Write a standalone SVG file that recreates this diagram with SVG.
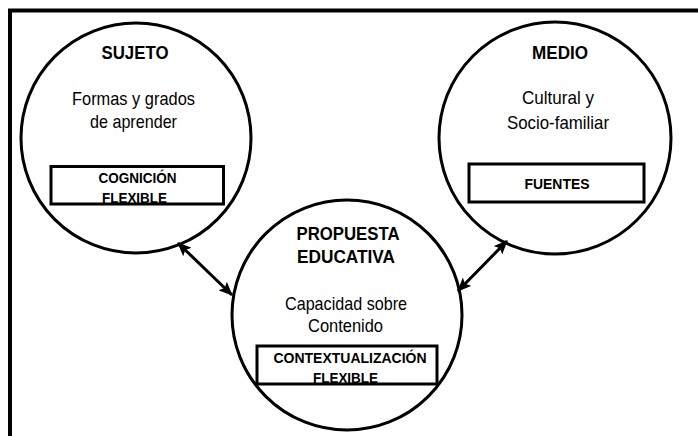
<svg xmlns="http://www.w3.org/2000/svg" width="698" height="436" viewBox="0 0 698 436">
<defs>
<style>
.frame{fill:none;stroke:#000;stroke-width:4}
.circ{fill:none;stroke:#000;stroke-width:3}
.box{fill:none;stroke:#000;stroke-width:3}
text{font-family:"Liberation Sans",Arial,sans-serif;text-anchor:middle;fill:#000}
.title{font-weight:bold;font-size:19px}
.body{font-size:18.5px}
.lab{font-weight:bold;font-size:15.5px}
.arrow{stroke:#000;stroke-width:3;fill:none;marker-start:url(#ah);marker-end:url(#ah)}
</style>
<marker id="ah" viewBox="0 0 14 12" refX="13" refY="6" markerWidth="14" markerHeight="12" markerUnits="userSpaceOnUse" orient="auto-start-reverse">
<path d="M0,0 L14,6 L0,12 L3,6 Z" fill="#000"/>
</marker>
</defs>
<path class="frame" d="M10,436 V10.5 H698"/>
<g id="sujeto">
<circle class="circ" cx="136" cy="138" r="115"/>
<text class="title" x="135" y="58.5" textLength="67" lengthAdjust="spacingAndGlyphs">SUJETO</text>
<text class="body" x="133.5" y="105" textLength="123" lengthAdjust="spacingAndGlyphs">Formas y grados</text>
<text class="body" x="133.5" y="127.5" textLength="87" lengthAdjust="spacingAndGlyphs">de aprender</text>
<rect class="box" x="51" y="166.5" width="172.5" height="37.5"/>
<text class="lab" x="137.5" y="183.3" textLength="78" lengthAdjust="spacingAndGlyphs">COGNICIÓN</text>
<text class="lab" x="134.5" y="202.7" textLength="65" lengthAdjust="spacingAndGlyphs">FLEXIBLE</text>
</g>
<g id="medio">
<circle class="circ" cx="555" cy="138" r="116"/>
<text class="title" x="560" y="59" textLength="56" lengthAdjust="spacingAndGlyphs">MEDIO</text>
<text class="body" x="558" y="104" textLength="72" lengthAdjust="spacingAndGlyphs">Cultural y</text>
<text class="body" x="558" y="129" textLength="102" lengthAdjust="spacingAndGlyphs">Socio-familiar</text>
<rect class="box" x="469" y="164" width="175" height="38"/>
<text class="lab" x="557" y="189" textLength="65" lengthAdjust="spacingAndGlyphs">FUENTES</text>
</g>
<g id="propuesta">
<circle class="circ" cx="347" cy="315" r="115"/>
<text class="title" x="348" y="240" textLength="103" lengthAdjust="spacingAndGlyphs">PROPUESTA</text>
<text class="title" x="346" y="263" textLength="98" lengthAdjust="spacingAndGlyphs">EDUCATIVA</text>
<text class="body" x="346" y="310" textLength="122" lengthAdjust="spacingAndGlyphs">Capacidad sobre</text>
<text class="body" x="345.5" y="332" textLength="75" lengthAdjust="spacingAndGlyphs">Contenido</text>
<rect class="box" x="257" y="346" width="180" height="38"/>
<text class="lab" x="350" y="363" textLength="153" lengthAdjust="spacingAndGlyphs">CONTEXTUALIZACIÓN</text>
<text class="lab" x="345.5" y="383" textLength="65" lengthAdjust="spacingAndGlyphs">FLEXIBLE</text>
</g>
<g id="connectors">
<line class="arrow" x1="178" y1="243" x2="232" y2="295"/>
<line class="arrow" x1="507" y1="241" x2="458" y2="291"/>
</g>
</svg>
